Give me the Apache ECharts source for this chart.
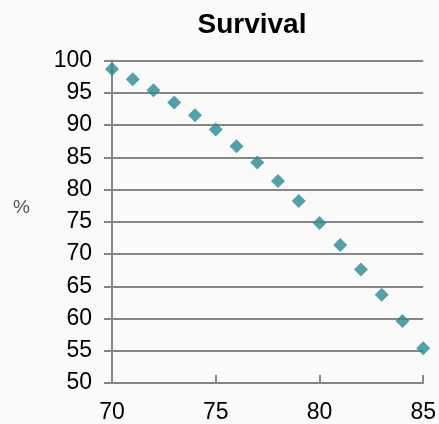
<!DOCTYPE html>
<html>
<head>
<meta charset="utf-8">
<script src="https://cdn.jsdelivr.net/npm/echarts@6/dist/echarts.min.js"></script>
<style>
  html, body { margin: 0; padding: 0; background: #fafafa; }
  #chart { width: 439px; height: 424px; }
</style>
</head>
<body>
<div id="chart"></div>
<script>
// Age (years) and survival (%)
const ages = [70, 71, 72, 73, 74, 75, 76, 77, 78, 79, 80, 81, 82, 83, 84, 85];
const survival = [98.7, 97.1, 95.4, 93.5, 91.5, 89.3, 86.7, 84.2, 81.3, 78.2, 74.8, 71.4, 67.6, 63.7, 59.6, 55.4];

const points = ages.map((a, i) => [a, survival[i]]);

const chart = echarts.init(document.getElementById('chart'), null, { renderer: 'canvas' });
const axisGray = '#868686';
const font = 'Liberation Sans, Arial, Helvetica, sans-serif';

chart.setOption({
  backgroundColor: '#fafafa',
  animation: false,
  title: {
    text: 'Survival',
    left: 247,
    textAlign: 'center',
    top: 6,
    textStyle: { fontFamily: font, fontWeight: 'bold', fontSize: 28, color: '#000' }
  },
  grid: { left: 112, right: 15, top: 60.5, bottom: 41 },
  xAxis: {
    type: 'value',
    min: 70, max: 85, interval: 5,
    axisLine: { show: true, lineStyle: { color: axisGray, width: 2 } },
    axisTick: { show: true, inside: true, length: 8, lineStyle: { color: axisGray, width: 2 } },
    axisLabel: { fontFamily: font, fontSize: 23, color: '#000', margin: 18 },
    splitLine: { show: false }
  },
  yAxis: {
    type: 'value',
    min: 50, max: 100, interval: 5,
    name: '%',
    nameLocation: 'middle',
    nameRotate: 0,
    nameGap: 82,
    nameTextStyle: { fontFamily: font, fontSize: 19, color: '#555', verticalAlign: 'bottom', padding: [0, 0, 4, 0] },
    axisLine: { show: true, lineStyle: { color: axisGray, width: 2 } },
    axisTick: { show: true, inside: false, length: 8, lineStyle: { color: axisGray, width: 2 } },
    axisLabel: { fontFamily: font, fontSize: 23, color: '#000', margin: 20 },
    splitLine: { show: true, lineStyle: { color: axisGray, width: 2 } }
  },
  series: [{
    type: 'scatter',
    data: points,
    symbol: 'diamond',
    symbolSize: [14, 14],
    itemStyle: { color: '#2a8994' }
  }]
});
</script>
</body>
</html>
